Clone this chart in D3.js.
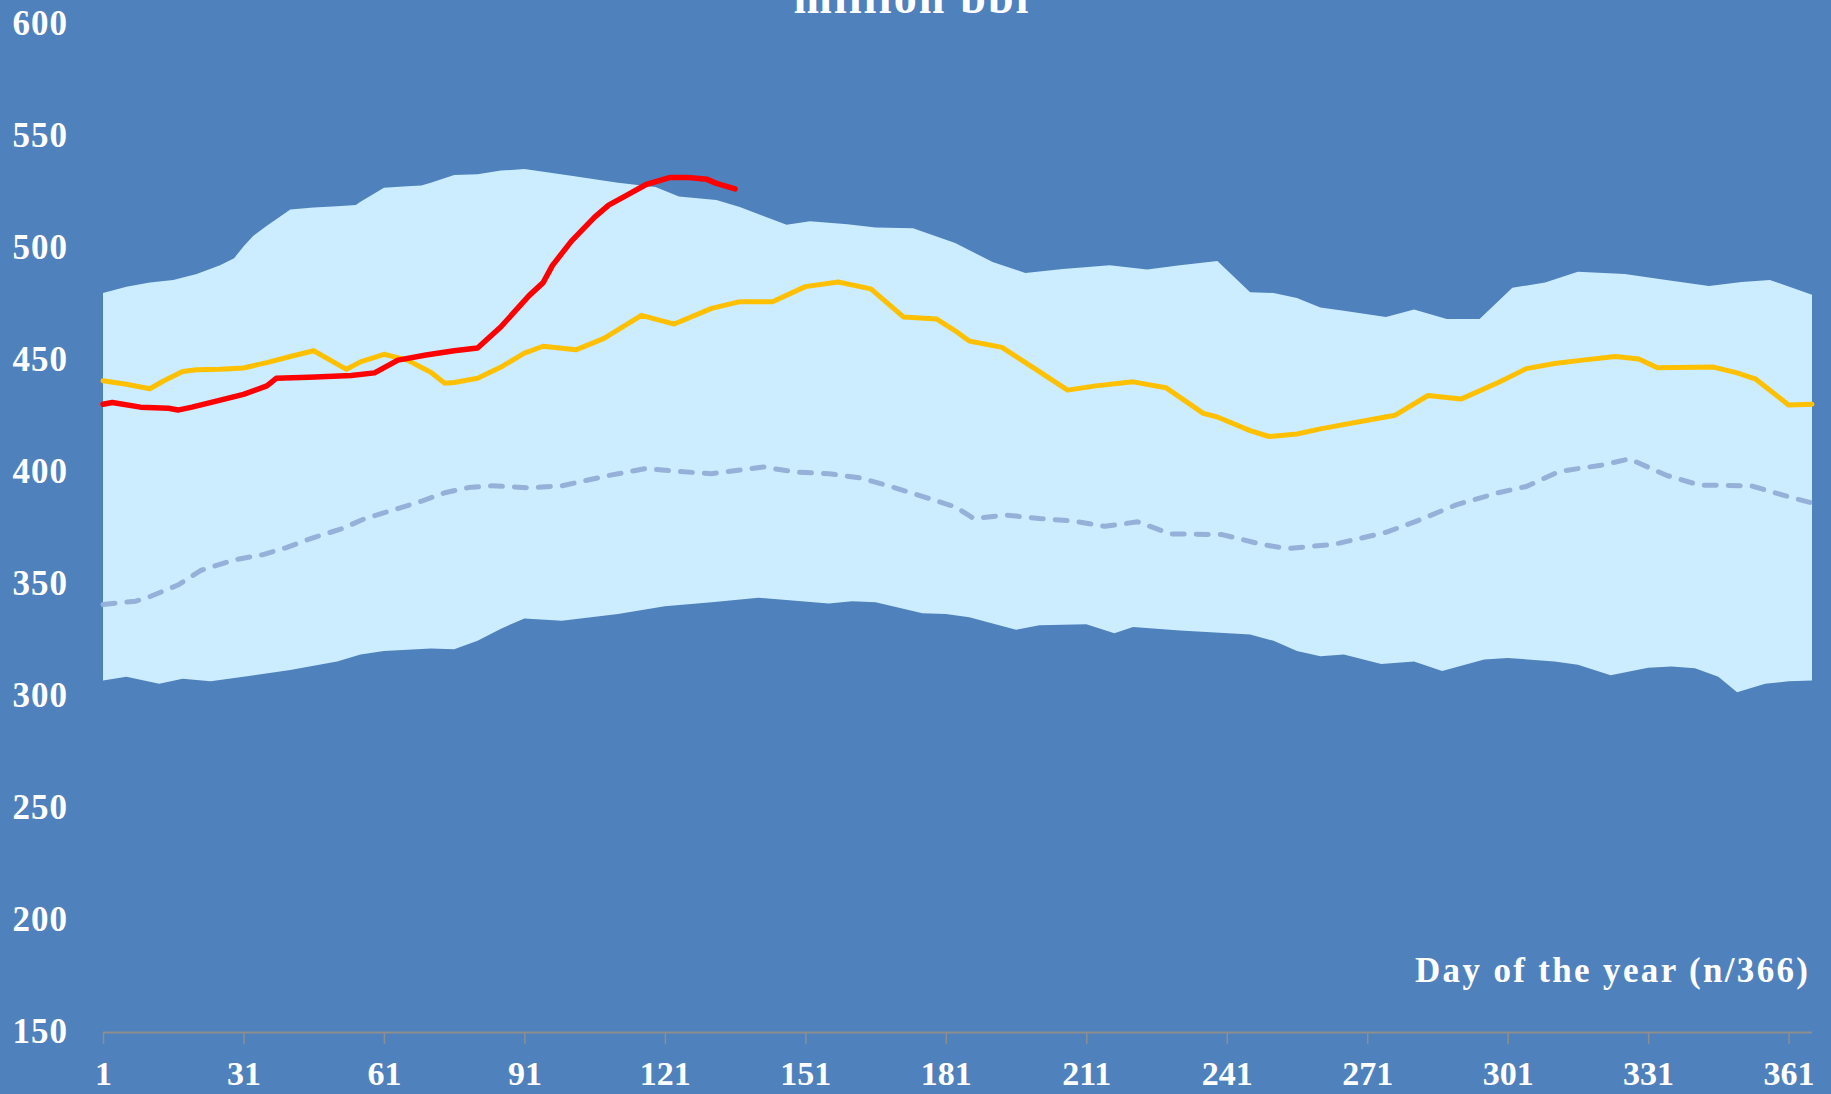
<!DOCTYPE html>
<html>
<head>
<meta charset="utf-8">
<script src="https://cdn.jsdelivr.net/npm/d3@7"></script>
<style>
  html, body { margin: 0; padding: 0; background: #4F81BD; }
  svg { display: block; }
  text { font-family: "Liberation Serif", "Times New Roman", serif; font-weight: bold; fill: #ffffff; }
</style>
</head>
<body>
<svg id="chart" width="1831" height="1094"></svg>
<script>
// ---- Data ----
const title = "million bbl";
const xAxisTitle = "Day of the year (n/366)";
const yTicks = [150, 200, 250, 300, 350, 400, 450, 500, 550, 600];
const xTicks = [1, 31, 61, 91, 121, 151, 181, 211, 241, 271, 301, 331, 361];

// Range band: upper edge (max)
const upperDays = [1,6,11,16,21,26,29,31,33,36,41,46,51,55,56,61,66,69,71,76,81,86,91,101,111,119,124,132,137,147,152,160,166,174,183,191,198,206,216,224,231,239,246,251,256,261,266,275,281,288,295,302,309,316,326,336,344,351,357,366];
const upperVals = [479.5,482.2,484.1,485.3,487.9,491.8,495,500.2,504.8,509.5,516.7,517.6,518.2,518.7,520.2,526.4,527.1,527.4,528.7,532.1,532.5,534.1,534.8,531.8,528.7,526.8,522.5,521,517.9,509.9,511.5,510.2,508.7,508.4,501.8,493.3,488.4,490.2,491.8,490,491.8,493.8,479.8,479.5,477.2,473,471.5,468.7,472.1,467.9,467.9,481.8,484.1,489,487.9,484.9,482.6,484.4,485.3,478.7];

// Range band: lower edge (min)
const lowerDays = [1,6,13,18,24,31,41,51,56,61,71,76,81,86,91,99,111,121,131,141,156,161,166,176,181,186,196,201,211,217,221,231,246,251,256,261,266,274,281,287,296,301,311,316,323,331,336,341,346,350,356,361,366];
const lowerVals = [306.5,308.1,305,307.3,306.1,308.1,311.2,315,318.1,319.6,320.8,320.4,324.2,329.6,334.2,333.1,336.2,339.6,341.4,343.4,340.8,341.9,341.4,336.5,336.2,334.7,329.1,331.1,331.6,327.6,330.4,328.8,327,324.2,319.6,317.3,318.1,313.8,315,310.7,315.8,316.5,315,313.5,308.8,312.2,312.7,311.9,308.1,301.2,305,306.1,306.5];

// Previous year (yellow)
const yellowDays = [1,6,11,14,18,21,26,31,36,41,46,53,56,61,66,71,74,76,81,86,91,95,102,108,116,123,131,137,144,151,158,165,172,179,183,186,193,200,207,213,221,228,236,239,246,250,256,261,274,277,284,291,299,305,311,317,324,329,333,345,350,354,361,366];
const yellowVals = [440.3,438.7,436.7,440.3,444.4,445.2,445.4,446,448.4,451.1,453.7,445.4,448.7,452.1,449.5,444.1,439.2,439.5,441.4,446.4,452.6,455.7,454.1,459.2,469.5,465.6,472.6,475.6,475.6,482.3,484.4,481.3,468.7,467.9,462.6,458,455.2,445.7,436.1,438,439.8,437.2,425.7,424.1,418,415.4,416.5,418.8,423.8,424.9,433.7,432.1,439.5,445.7,448,449.5,451.1,450,446.1,446.4,443.8,441,429.5,429.8];

// Average (dashed)
const avgDays = [1,8,11,17,22,29,35,40,46,52,57,63,69,74,79,84,92,99,109,117,124,131,142,149,156,163,170,177,183,187,194,201,208,215,222,229,240,249,254,264,275,282,290,299,305,312,321,327,335,342,353,360,366];
const avgVals = [340.4,341.9,343.9,349.1,355.7,360.3,362.6,365.7,370.3,374.2,378.8,382.6,386.5,390.3,392.6,393.4,392.5,393.4,398,401.1,399.8,398.8,401.8,399.5,398.8,396.8,392.6,388,384,378.8,380.3,378.8,377.7,375.3,377.3,371.9,371.6,367,365.4,367.3,372.6,378,384.9,390.3,393.1,399.8,402.6,405.4,398,393.7,393.4,389.1,385.7];

// Current year (red)
const redDays = [1,3,9,15,17,20,25,31,36,38,45,54,59,64,70,76,81,86,92,95,97,101,106,109,113,117,122,126,130,132,136];
const redVals = [429.8,430.6,428.5,428,427.2,428.5,431.1,434.2,438,441.4,441.8,442.6,443.8,449.5,451.8,453.7,454.9,464.4,478.3,484.1,491.8,502.5,513.3,518.7,523.3,527.9,531,531,530.2,528.4,525.9];

// ---- Drawing ----
const svg = d3.select("#chart");
const W = 1831, H = 1094;

svg.append("rect").attr("width", W).attr("height", H).attr("fill", "#4F81BD");

const x = d3.scaleLinear().domain([1, 366]).range([103, 1812]);
const y = d3.scaleLinear().domain([150, 600]).range([1031, 23]);

const zip = (a, b) => a.map((d, i) => [d, b[i]]);
const line = d3.line().x(d => x(d[0])).y(d => y(d[1]));

// band polygon
const bandPts = zip(upperDays, upperVals).concat(zip(lowerDays, lowerVals).reverse());
svg.append("path")
  .attr("d", line(bandPts) + "Z")
  .attr("fill", "#CCECFF");

// dashed average
svg.append("path")
  .attr("d", line(zip(avgDays, avgVals)))
  .attr("fill", "none")
  .attr("stroke", "#95B0D9")
  .attr("stroke-width", 5)
  .attr("stroke-dasharray", "12 12")
  .attr("stroke-linecap", "round")
  .attr("stroke-linejoin", "round");

// yellow
svg.append("path")
  .attr("d", line(zip(yellowDays, yellowVals)))
  .attr("fill", "none")
  .attr("stroke", "#FFC000")
  .attr("stroke-width", 5)
  .attr("stroke-linejoin", "round")
  .attr("stroke-linecap", "round");

// red
svg.append("path")
  .attr("d", line(zip(redDays, redVals)))
  .attr("fill", "none")
  .attr("stroke", "#FF0000")
  .attr("stroke-width", 5.5)
  .attr("stroke-linejoin", "round")
  .attr("stroke-linecap", "round");

// x axis
const xAxis = d3.axisBottom(x).tickValues(xTicks).tickSize(12).tickPadding(14).tickFormat(d3.format("d"));
const gx = svg.append("g").attr("transform", `translate(0,${y(150) + 1})`).call(xAxis);
gx.select(".domain").attr("stroke", "#8E8E8E").attr("stroke-width", 2).attr("d", `M${x(1)},0.5H${x(366)}`);
gx.selectAll(".tick line").attr("stroke", "#8E8E8E").attr("stroke-width", 1.5);
gx.selectAll(".tick text")
  .attr("fill", "#fff")
  .style("font-family", '"Liberation Serif", serif')
  .style("font-weight", "bold")
  .style("font-size", "34px")
  .attr("dy", null)
  .attr("y", 53);

// y labels (no axis line)
svg.append("g").selectAll("text")
  .data(yTicks)
  .join("text")
  .attr("x", 68)
  .attr("y", d => y(d) + 12)
  .attr("text-anchor", "end")
  .style("font-size", "35px")
  .attr("letter-spacing", "1")
  .text(d => d);

// x axis title
svg.append("text")
  .attr("x", 1808)
  .attr("y", 982)
  .attr("text-anchor", "end")
  .style("font-size", "35px")
  .attr("textLength", 393)
  .attr("lengthAdjust", "spacing")
  .text(xAxisTitle);

// chart title (partly cut off at the top, as in the reference)
svg.append("text")
  .attr("x", 911)
  .attr("y", 13)
  .attr("text-anchor", "middle")
  .style("font-size", "46px")
  .attr("textLength", 235)
  .attr("lengthAdjust", "spacing")
  .text(title);
</script>
</body>
</html>
